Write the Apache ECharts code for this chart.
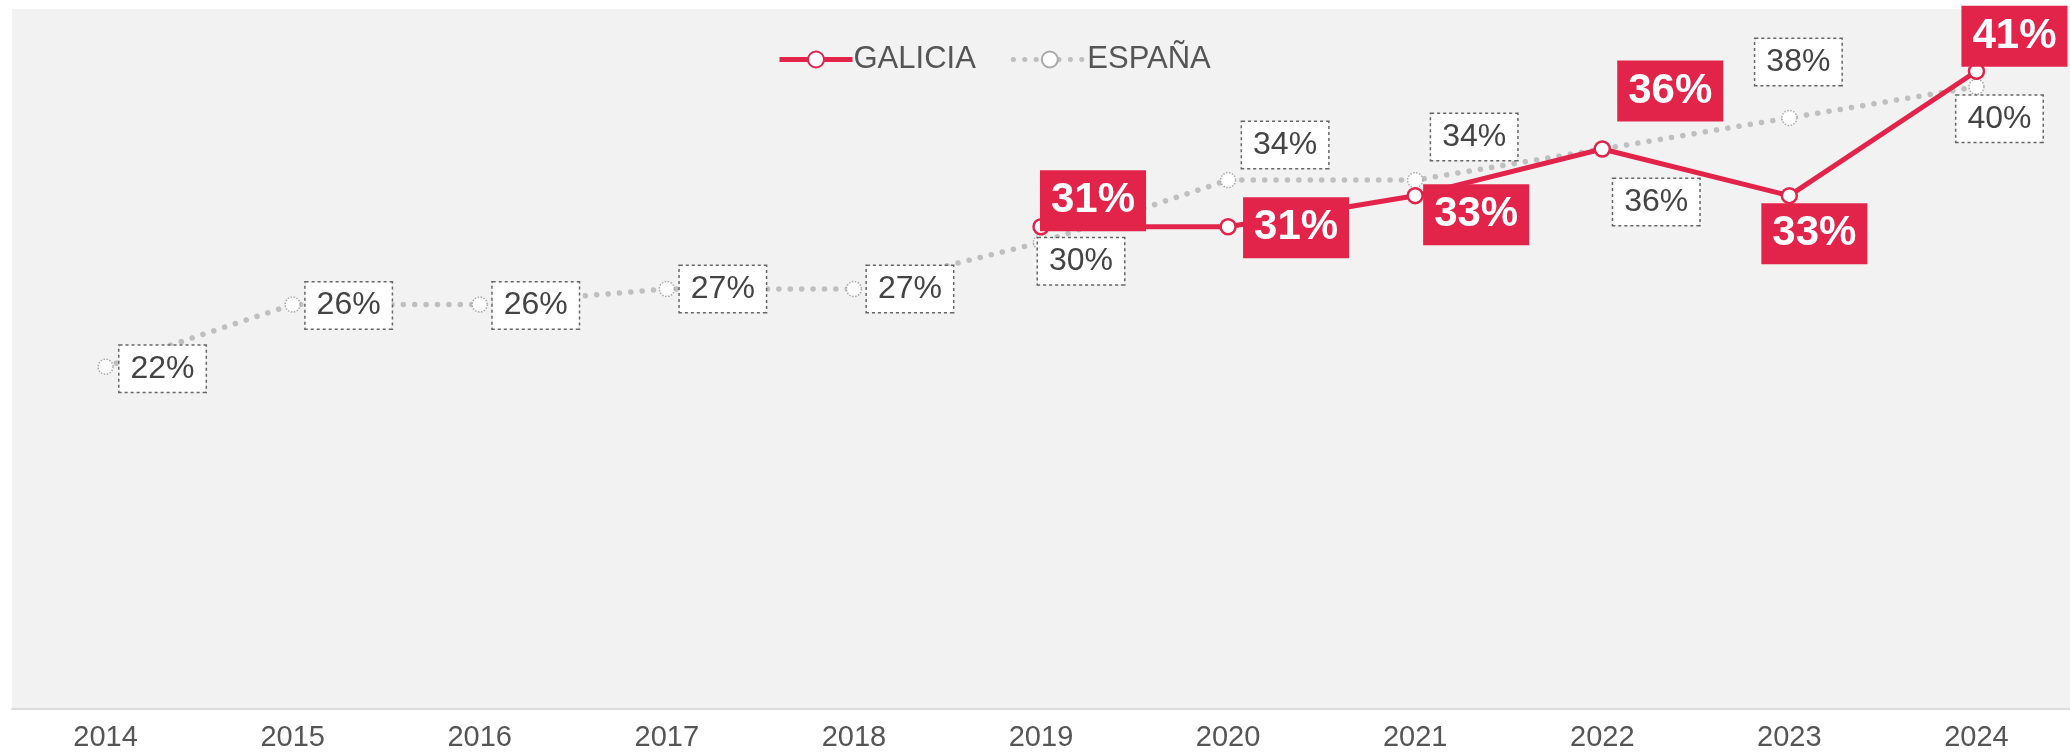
<!DOCTYPE html>
<html>
<head>
<meta charset="utf-8">
<script src="https://cdn.jsdelivr.net/npm/echarts@6/dist/echarts.min.js"></script>
<style>
    html, body {
        margin: 0;
        padding: 0;
        background: #fff;
    }
    #chart {
        width: 2070px;
        height: 754px;
    }
</style>
</head>
<body>
<div id="chart"></div>
<script>
const years = ['2014', '2015', '2016', '2017', '2018', '2019', '2020', '2021', '2022', '2023', '2024'];
const galicia = [null, null, null, null, null, 31, 31, 33, 36, 33, 41];
const espana = [22, 26, 26, 27, 27, 30, 34, 34, 36, 38, 40];

// where each label box sits, relative to its point
const galiciaLabelOffsets = [null, null, null, null, null, [52, -26], [68, 1], [61, 19], [68, -58], [25, 38], [38, -35]];
const espanaLabelOffsets = [[57, 2], [56, 1], [56, 1], [56, 0], [56, 0], [40, 19], [57, -35], [59, -43], [54, 53], [9, -56], [23, 32]];

const RED = '#e2244a';
const GREY = '#bfbfbf';
const FONT = '"Liberation Sans", Arial, sans-serif';

const withOffsets = (values, offsets) => values.map((v, i) => {
    if (v === null) {
        return '-';
    }
    return {
        value: v,
        label: {offset: offsets[i]}
    };
});

const chart = echarts.init(document.getElementById('chart'));

chart.setOption({
    animation: false,
    textStyle: {fontFamily: FONT},
    legend: {
        left: 772,
        top: 39,
        itemWidth: 73,
        itemHeight: 20,
        itemGap: 35,
        lineStyle: {width: 5},
        textStyle: {
            fontSize: 31,
            color: '#555',
            fontFamily: FONT,
            padding: [0, 0, 0, -4]
        },
        data: ['GALICIA', 'ESPAÑA']
    },
    grid: {
        left: 12,
        width: 2068,
        top: 9,
        bottom: 45,
        show: true,
        backgroundColor: '#f2f2f2',
        borderWidth: 0
    },
    xAxis: {
        type: 'category',
        data: years,
        boundaryGap: true,
        axisTick: {show: false},
        axisLine: {
            lineStyle: {color: '#dcdcdc', width: 2}
        },
        axisLabel: {
            fontSize: 29,
            color: '#555',
            margin: 14,
            fontFamily: FONT
        }
    },
    yAxis: {
        type: 'value',
        min: 0,
        max: 45,
        show: false,
        splitLine: {show: false}
    },
    series: [
        {
            name: 'ESPAÑA',
            type: 'line',
            data: withOffsets(espana, espanaLabelOffsets),
            symbol: 'circle',
            symbolSize: 15,
            z: 2,
            lineStyle: {
                color: GREY,
                width: 5.5,
                type: [0.1, 11.3],
                cap: 'round'
            },
            itemStyle: {
                color: '#fff',
                borderColor: '#aaa',
                borderWidth: 1.5,
                borderType: 'dotted'
            },
            label: {
                show: true,
                position: 'inside',
                formatter: p => p.value + '%',
                fontSize: 32,
                color: '#444',
                fontFamily: FONT,
                backgroundColor: '#fff',
                borderColor: '#666',
                borderWidth: 1.5,
                borderType: 'dotted',
                padding: [7, 11],
                lineHeight: 32
            }
        },
        {
            name: 'GALICIA',
            type: 'line',
            data: withOffsets(galicia, galiciaLabelOffsets),
            symbol: 'circle',
            symbolSize: 15,
            z: 3,
            lineStyle: {
                color: RED,
                width: 5
            },
            itemStyle: {
                color: '#fff',
                borderColor: RED,
                borderWidth: 2.5
            },
            label: {
                show: true,
                position: 'inside',
                formatter: p => p.value + '%',
                fontSize: 42,
                fontWeight: 'bold',
                color: '#fff',
                fontFamily: FONT,
                backgroundColor: RED,
                padding: [9, 11],
                lineHeight: 43
            }
        }
    ]
});
</script>
</body>
</html>
